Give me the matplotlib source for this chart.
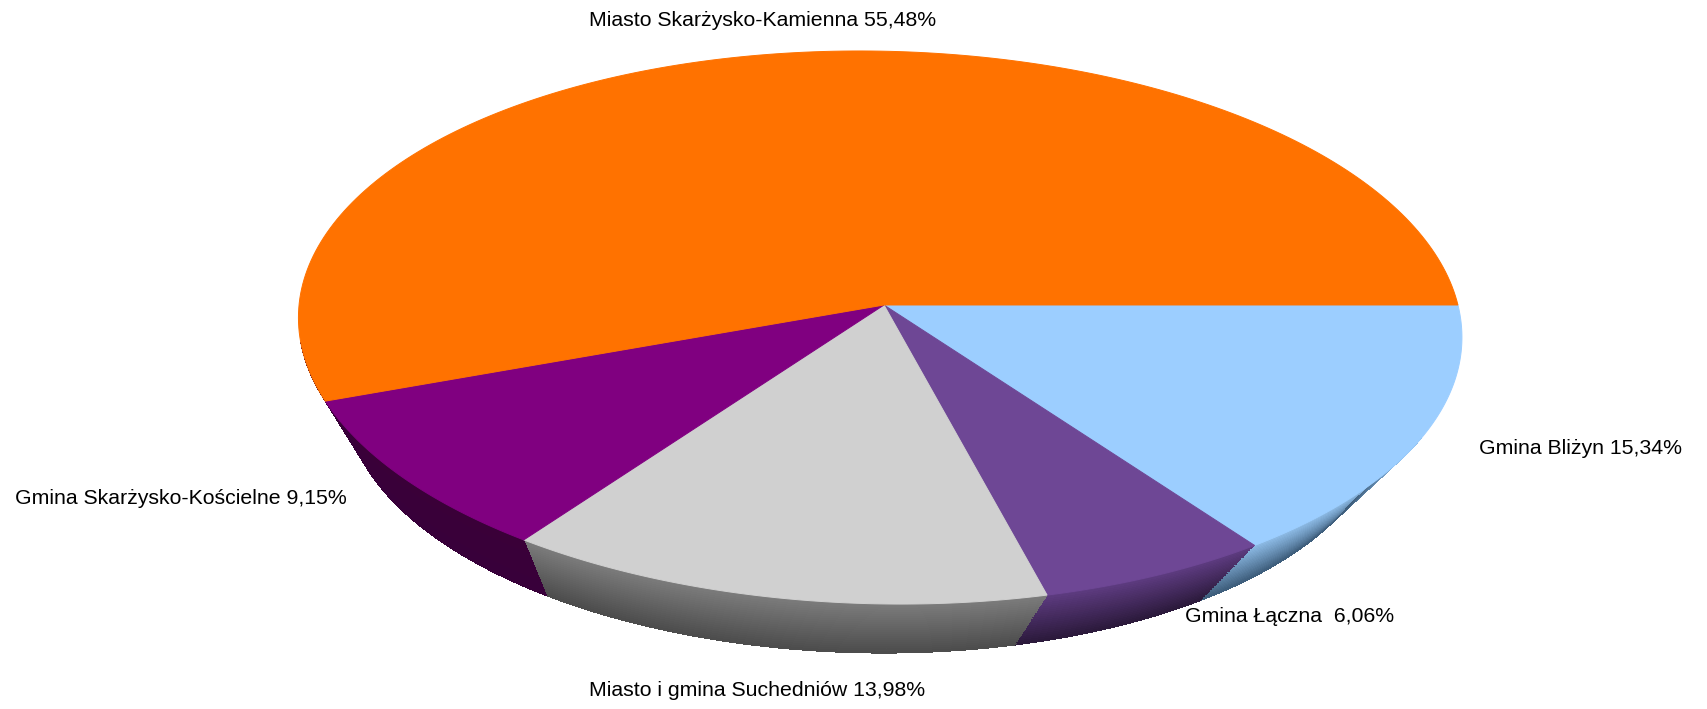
import numpy as np
import matplotlib
matplotlib.use('Agg')
import matplotlib.pyplot as plt

plt.rcParams['font.family'] = ['Liberation Sans', 'DejaVu Sans']

# clockwise from the east edge of the pie
names = ['Gmina Bliżyn', 'Gmina Łączna ', 'Miasto i gmina Suchedniów',
         'Gmina Skarżysko-Kościelne', 'Miasto Skarżysko-Kamienna']
values = [15.34, 6.06, 13.98, 9.15, 55.48]
colors = ['#9CCEFF', '#6E4795', '#D0D0D0', '#800080', '#FF7200']
wall_top = ['#8DBBE6', '#5D3B80', '#7B7B7B', '#3A0038', None]
wall_bottom = ['#3F5F7D', '#2C1A3C', '#4D4D4D', '#38003A', None]
label_pos = [(1479, 449), (1185, 616), (589, 691), (15, 499), (589, 20)]

# perspective of the tilted disc
APEX = (884, 305)
VANISH = (740, 1071)
DEPTH = 0.895


def project(theta):
    c, s = np.cos(theta), -np.sin(theta)
    w = 1 + 0.0095 * c - 0.0814 * s
    x = APEX[0] + (579.4 * c + 21 * s) / w
    y = APEX[1] + 274.7 * s / w
    return x, y


def lower(x, y, f=1.0):
    k = 1 - (1 - DEPTH) * f
    return VANISH[0] + k * (x - VANISH[0]), VANISH[1] + k * (y - VANISH[1])


def draw_wall(ax, t0, t1, c_top, c_bottom):
    t = np.linspace(t0, t1, 80)
    x, y = project(t)
    c_top = np.array(matplotlib.colors.to_rgb(c_top))
    c_bottom = np.array(matplotlib.colors.to_rgb(c_bottom))
    n = 24
    for i in range(n):
        xa, ya = lower(x, y, i / n)
        xb, yb = lower(x, y, (i + 1.3) / n if i < n - 1 else 1.0)
        col = c_top + (c_bottom - c_top) * (i / (n - 1))
        ax.fill(np.r_[xa, xb[::-1]], np.r_[ya, yb[::-1]], color=col, lw=0,
                antialiased=False, zorder=2 + i * 0.001)


fig = plt.figure(figsize=(17.07, 7.09), dpi=100)
ax = fig.add_axes([0, 0, 1, 1])
ax.set_xlim(0, 1707)
ax.set_ylim(709, 0)
ax.axis('off')

edges = -np.cumsum([0] + values) / sum(values) * 2 * np.pi

for i in range(len(values)):
    t0, t1 = edges[i], edges[i + 1]
    if wall_top[i] is None:
        continue
    if i == 3:
        # the Kościelne wall runs on behind the orange slice until it meets the rim
        t1 = t1 - np.radians(12)
    if i == 0:
        # the Bliżyn wall dies out before the east edge
        t0 = t0 - np.radians(28)
    draw_wall(ax, t0, t1, wall_top[i], wall_bottom[i])

for i in range(len(values)):
    t = np.linspace(edges[i], edges[i + 1], 200)
    x, y = project(t)
    # thin edge in the same colour hides the jagged wall pixels along the rim
    ax.fill(np.r_[APEX[0], x], np.r_[APEX[1], y], facecolor=colors[i],
            edgecolor=colors[i], lw=0.7, zorder=3)

for i in range(len(values)):
    label = f"{names[i]} {values[i]:.2f}%".replace('.', ',')
    ax.text(label_pos[i][0], label_pos[i][1], label, fontsize=15.3, color='black',
            ha='left', va='center', zorder=4)

fig.savefig('out.png', dpi=100, facecolor='white')
